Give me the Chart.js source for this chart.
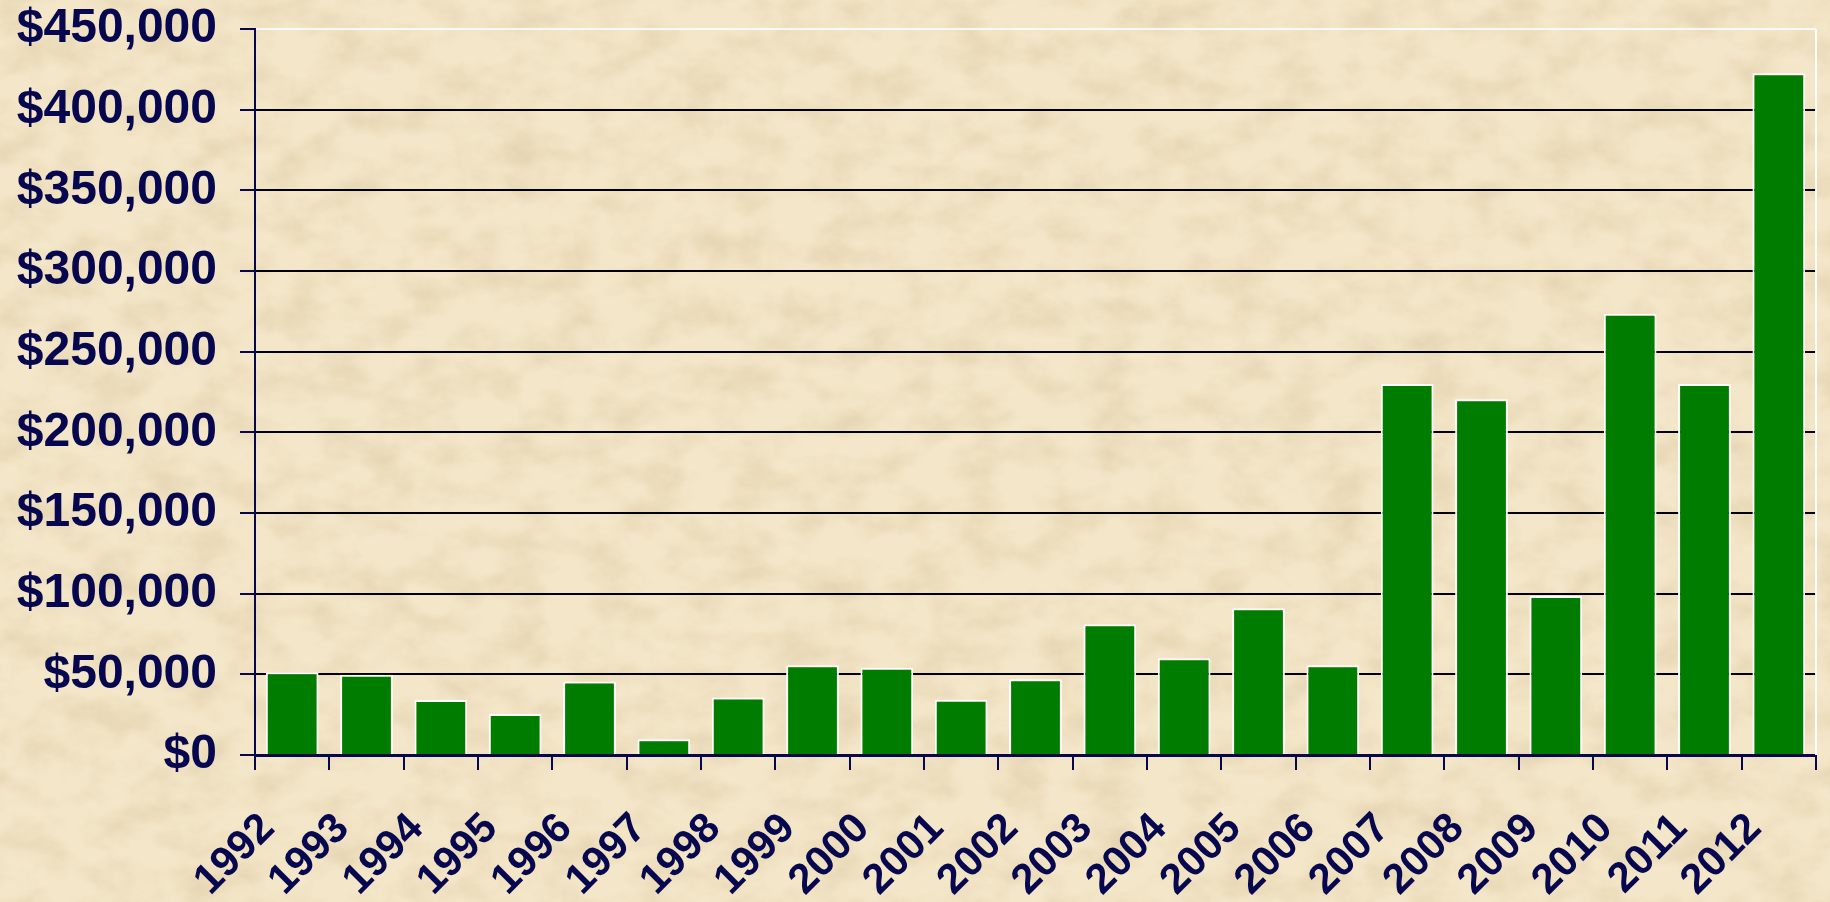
<!DOCTYPE html>
<html>
<head>
<meta charset="utf-8">
<script src="https://cdn.jsdelivr.net/npm/chart.js@4.4.1/dist/chart.umd.min.js"></script>
<style>
html,body{margin:0;padding:0;width:1830px;height:902px;overflow:hidden;}
body{
  background-color:#f4e7c9;
  background-image:url("data:image/svg+xml;utf8,<svg xmlns='http://www.w3.org/2000/svg' width='1830' height='902'><filter id='f' x='0' y='0' width='100%25' height='100%25'><feTurbulence type='fractalNoise' baseFrequency='0.022 0.03' numOctaves='5' seed='11'/><feColorMatrix type='matrix' values='0 0 0 0 0.62  0 0 0 0 0.48  0 0 0 0 0.28  0.7 0 0 0 -0.26'/></filter><rect width='1830' height='902' filter='url(%23f)'/></svg>");
}
canvas{display:block;}
</style>
</head>
<body>
<canvas id="c" width="1830" height="902"></canvas>
<script>
const categories = ['1992','1993','1994','1995','1996','1997','1998','1999','2000','2001','2002','2003','2004','2005','2006','2007','2008','2009','2010','2011','2012'];
const amounts = [51200, 49800, 34100, 25400, 45500, 9700, 35600, 55600, 54100, 34200, 46900, 81100, 59900, 91000, 55600, 230000, 220500, 98500, 273500, 230000, 422500];
const yTickValues = [0, 50000, 100000, 150000, 200000, 250000, 300000, 350000, 400000, 450000];

const NAVY = '#07074f';
const FONT = "'Liberation Sans', Arial, sans-serif";

const rightBorder = {
  id: 'rightBorder',
  afterDatasetsDraw(chart) {
    const a = chart.chartArea, ctx = chart.ctx;
    ctx.save();
    ctx.strokeStyle = 'rgba(255,255,255,0.95)';
    ctx.lineWidth = 2;
    ctx.beginPath();
    ctx.moveTo(a.right, a.top);
    ctx.lineTo(a.right, a.bottom);
    ctx.stroke();
    ctx.restore();
  }
};

new Chart(document.getElementById('c'), {
  type: 'bar',
  data: {
    labels: categories,
    datasets: [{
      data: amounts,
      backgroundColor: '#007d00',
      borderColor: '#ffffff',
      borderWidth: 2,
      barPercentage: 0.71,
      categoryPercentage: 1.0
    }]
  },
  options: {
    responsive: false,
    animation: false,
    layout: { padding: { top: 29, right: 14, left: 0, bottom: 0 } },
    plugins: { legend: { display: false }, tooltip: { enabled: false } },
    scales: {
      x: {
        grid: { offset: true, drawOnChartArea: false, drawTicks: true, tickLength: 15, tickWidth: 2, tickColor: NAVY, lineWidth: 2, color: NAVY },
        border: { display: true, color: NAVY, width: 3 },
        ticks: {
          color: NAVY,
          font: { family: FONT, size: 42, weight: 'bold' },
          minRotation: 45, maxRotation: 45,
          padding: 34,
          labelOffset: -24,
          autoSkip: false
        },
        afterFit(scale) { scale.height = 147; scale.paddingLeft = 0; scale.paddingRight = 0; }
      },
      y: {
        min: 0, max: 450000,
        afterBuildTicks(scale) { scale.ticks = yTickValues.map(v => ({ value: v })); },
        grid: {
          color: (c) => (c.tick && c.tick.value === 450000) ? 'rgba(255,255,255,0.85)' : '#000000',
          lineWidth: 2, tickLength: 15, tickColor: NAVY, tickWidth: 2
        },
        border: { display: true, color: NAVY, width: 2 },
        ticks: {
          color: NAVY,
          font: { family: FONT, size: 48, weight: 'bold' },
          padding: 23,
          callback: (v) => '$' + Number(v).toLocaleString('en-US')
        },
        afterFit(scale) { scale.width = 255; scale.paddingTop = 0; scale.paddingBottom = 0; }
      }
    }
  },
  plugins: [rightBorder]
});
</script>
</body>
</html>
